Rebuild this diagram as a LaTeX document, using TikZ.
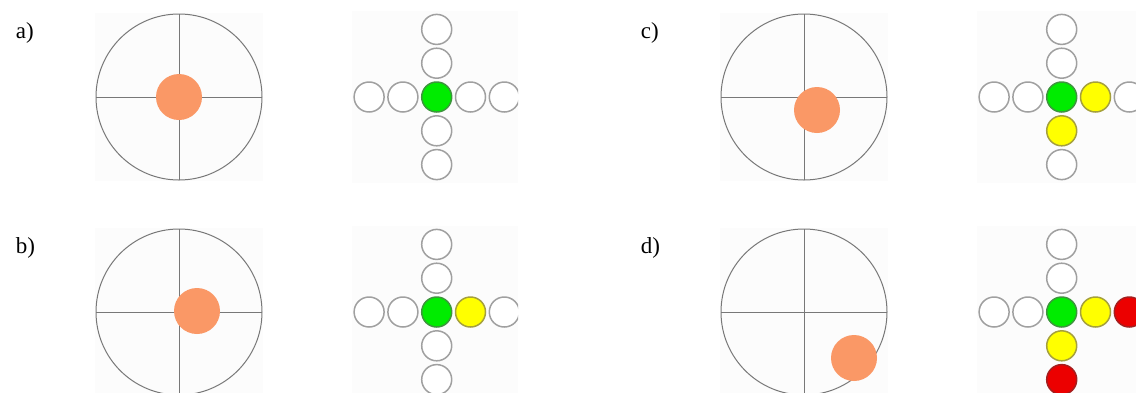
\documentclass[tikz,border=0pt]{standalone}
\usepackage{fontspec}
\setmainfont{Liberation Serif}

\definecolor{ringgray}{RGB}{120,120,120}
\definecolor{lampgray}{RGB}{160,160,160}
\definecolor{dotorange}{RGB}{250,152,102}
\definecolor{lampgreen}{RGB}{0,236,0}
\definecolor{lampgreenrim}{RGB}{60,150,60}
\definecolor{lampyellow}{RGB}{255,255,0}
\definecolor{lampyellowrim}{RGB}{165,160,60}
\definecolor{lampred}{RGB}{236,0,0}
\definecolor{lampredrim}{RGB}{165,30,30}

\begin{document}
\begin{tikzpicture}[x=1pt, y=-1pt, line width=1pt]
    \tikzstyle{lamp}=[circle, minimum size=30pt, inner sep=0pt, line width=1.5pt, draw=lampgray, fill=white]
    \tikzstyle{off}=[lamp]
    \tikzstyle{go}=[lamp, fill=lampgreen, draw=lampgreenrim]
    \tikzstyle{warn}=[lamp, fill=lampyellow, draw=lampyellowrim]
    \tikzstyle{halt}=[lamp, fill=lampred, draw=lampredrim]
    \tikzstyle{ring}=[circle, draw=ringgray, minimum size=166pt, inner sep=0pt, outer sep=0pt]
    \tikzstyle{target}=[circle, fill=dotorange, minimum size=46pt, inner sep=0pt]
    \tikzstyle{tag}=[anchor=base west, font=\fontsize{23}{26}\selectfont]
    \tikzstyle{shot}=[fill=black!1]

    \useasboundingbox (0,0) rectangle (1136,392);

    % panel / shift / dot offset / right lamps / lower lamps
    \foreach \p/\ox/\oy/\dx/\dy/\ra/\rb/\da/\db in
        {a/0/0/0/0/off/off/off/off,
         b/0/215/18/-1/warn/off/off/off,
         c/625/0/13/13/warn/off/warn/off,
         d/625/215/50/46/warn/halt/warn/halt}{
    \begin{scope}[shift={(\ox,\oy)}]
        \node[tag] (tag-\p) at (12,38) {\p)};

        \fill[shot] (95,13) rectangle (263,181);
        \node[ring] (ring-\p) at (179,97) {};
        \draw[ringgray] (ring-\p.west) -- (ring-\p.east)
                        (ring-\p.north) -- (ring-\p.south);
        \node[target] (dot-\p) at (179+\dx,97+\dy) {};

        \begin{scope}
            \clip (352,11) rectangle (518,183);
            \fill[shot] (352,11) rectangle (518,183);
            \node[go] (mid-\p) at (436.7,97) {};
            \node[off] (l2-\p) at (369.1,97) {};
            \node[off] (l1-\p) at (402.9,97) {};
            \node[\ra] (r1-\p) at (470.5,97) {};
            \node[\rb] (r2-\p) at (504.3,97) {};
            \node[off] (u2-\p) at (436.7,29.4) {};
            \node[off] (u1-\p) at (436.7,63.2) {};
            \node[\da] (d1-\p) at (436.7,130.8) {};
            \node[\db] (d2-\p) at (436.7,164.6) {};
        \end{scope}
    \end{scope}
    }
\end{tikzpicture}
\end{document}
